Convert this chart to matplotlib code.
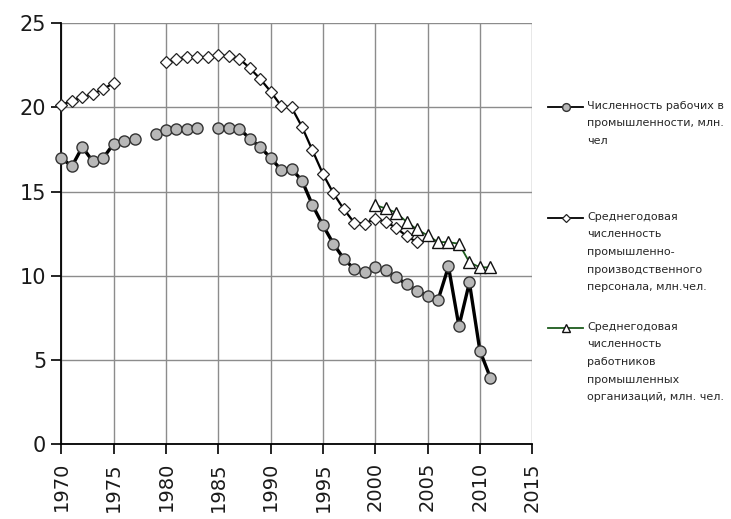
import numpy as np
import matplotlib
matplotlib.use("Agg")
import matplotlib.pyplot as plt
from matplotlib.lines import Line2D

nan = np.nan

# Численность рабочих в промышленности, млн. чел
years_workers = list(range(1970, 2012))
workers = [17.0, 16.5, 17.65, 16.8, 17.0, 17.85, 18.0, 18.15, nan, 18.45,
           18.65, 18.75, 18.75, 18.8, nan, 18.8, 18.8, 18.75, 18.15, 17.65,
           17.0, 16.3, 16.35, 15.65, 14.2, 13.0, 11.9, 11.0, 10.4, 10.25,
           10.5, 10.35, 9.9, 9.5, 9.1, 8.8, 8.55, 10.55, 7.0, 9.6,
           5.55, 3.95]

# Среднегодовая численность промышленно-производственного персонала
years_staff = list(range(1970, 2005))
staff = [20.15, 20.4, 20.6, 20.8, 21.1, 21.45, nan, nan, nan, nan,
         22.7, 22.9, 23.0, 23.0, 23.0, 23.1, 23.05, 22.9, 22.35, 21.7,
         20.95, 20.1, 20.0, 18.85, 17.45, 16.05, 14.9, 13.95, 13.15, 13.1,
         13.4, 13.2, 12.85, 12.35, 12.0]

# Среднегодовая численность работников промышленных организаций
years_org = list(range(2000, 2012))
org = [14.2, 14.0, 13.75, 13.2, 12.75, 12.4, 12.0, 12.0, 11.9, 10.8, 10.5, 10.5]

labels = [
    "Численность рабочих в\nпромышленности, млн.\nчел",
    "Среднегодовая\nчисленность\nпромышленно-\nпроизводственного\nперсонала, млн.чел.",
    "Среднегодовая\nчисленность\nработников\nпромышленных\nорганизаций, млн. чел.",
]

fig = plt.figure(figsize=(7.31, 5.19), dpi=100)
ax = fig.add_axes([0.084, 0.1445, 0.644, 0.8105])

styles = [
    dict(color="black", lw=2.4, marker="o", ms=8, mfc="#b8b8b8", mec="#333333", mew=1.0),
    dict(color="black", lw=1.6, marker="D", ms=6.5, mfc="white", mec="#222222", mew=0.9),
    dict(color="#1d5c1d", lw=1.3, marker="^", ms=9, mfc="white", mec="#111111", mew=1.0),
]

ax.plot(years_workers, workers, zorder=3, clip_on=False, **styles[0])
ax.plot(years_staff, staff, zorder=4, clip_on=False, **styles[1])
ax.plot(years_org, org, zorder=5, clip_on=False, **styles[2])

ax.set_xlim(1970, 2015)
ax.set_ylim(0, 25)
ax.set_xticks(range(1970, 2016, 5))
ax.set_yticks(range(0, 26, 5))
ax.tick_params(axis="x", labelrotation=90, labelsize=14, length=7, width=1.2,
               direction="out", pad=6, labelcolor="#1a1a1a")
ax.tick_params(axis="y", labelsize=15, length=7, width=1.2, direction="out", pad=4,
               labelcolor="#1a1a1a")
ax.grid(True, color="#8c8c8c", lw=1.0, zorder=0)
ax.set_axisbelow(True)
for s in ["top", "right"]:
    ax.spines[s].set_visible(False)
for s in ["left", "bottom"]:
    ax.spines[s].set_linewidth(1.3)
    ax.spines[s].set_zorder(2.5)

# legend on the right: marker lines up with the first text line
W, H = 731.0, 519.0
leg_y = [107, 218, 328]
for st, lab, yy in zip(styles, labels, leg_y):
    yf = 1 - yy / H
    line_kw = {k: v for k, v in st.items() if not k.startswith("m")}
    line_kw["lw"] = 1.3
    fig.add_artist(Line2D([548 / W, 583 / W], [yf, yf], transform=fig.transFigure, **line_kw))
    mk_kw = {k: v for k, v in st.items() if k.startswith("m")}
    mk_kw["ms"] = st["ms"] * 0.7
    fig.add_artist(Line2D([565.5 / W], [yf], transform=fig.transFigure, ls="none", **mk_kw))
    fig.text(587 / W, yf + 0.012, lab, fontsize=8, color="#262626", va="top",
             ha="left", linespacing=1.95)

fig.savefig("out.png", dpi=100)
